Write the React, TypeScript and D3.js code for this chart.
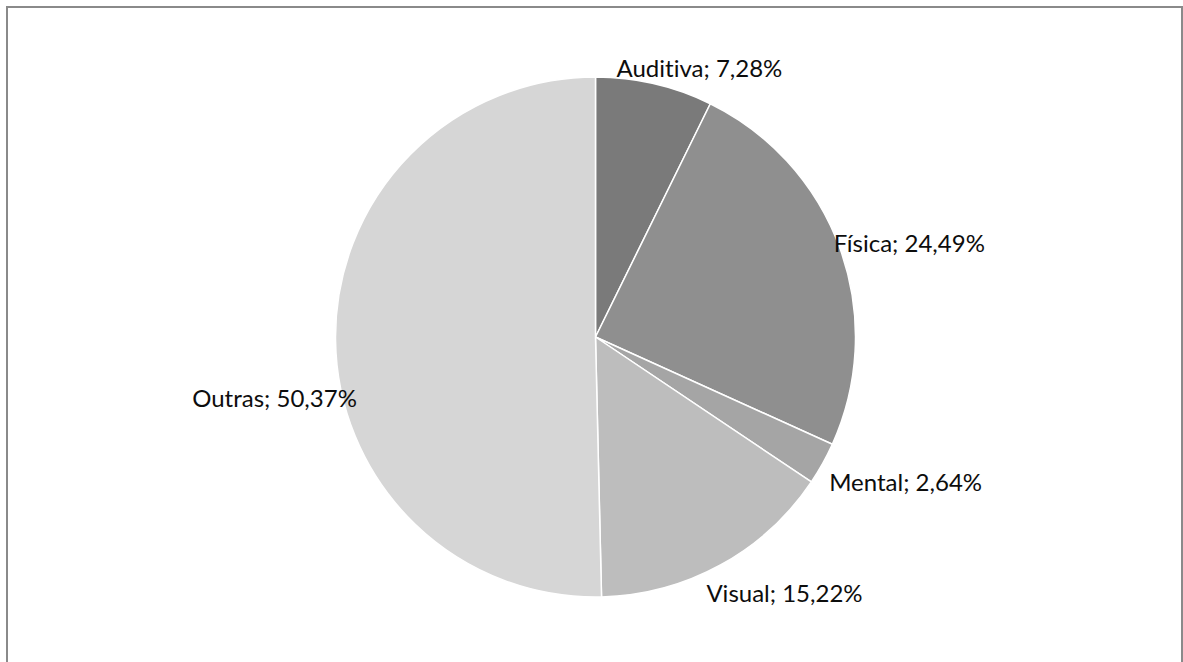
import React from "react";
import * as d3 from "d3";

const categories = ["Auditiva", "Física", "Mental", "Visual", "Outras"];
const values = [7.28, 24.49, 2.64, 15.22, 50.37];
const colors = ["#7a7a7a", "#8f8f8f", "#a5a5a5", "#bdbdbd", "#d6d6d6"];
// layout nudges for labels (relative to the slice's mid-angle point on the rim)
const labelNudge: [number, number][] = [
  [45, -7],
  [69, 3],
  [83, 27],
  [64, 37],
  [-61, 67],
];

const W = 1183;
const H = 662;
const cx = 595.5;
const cy = 337;
const R = 260;

const fmt = (v: number) => v.toFixed(2).replace(".", ",") + "%";

export default function App() {
  const data = categories.map((c, i) => ({ c, v: values[i], i }));
  const pie = d3.pie<any>().value((d) => d.v).sort(null);
  const arcs = pie(data);
  const arc = d3.arc<any>().innerRadius(0).outerRadius(R);

  return (
    <svg
      width={W}
      height={H}
      style={{ position: "absolute", left: 0, top: 0, background: "#fff" }}
    >
      <rect x={0} y={0} width={W} height={H} fill="#fff" />
      <rect
        x={7}
        y={7}
        width={1175}
        height={720}
        fill="#fff"
        stroke="#8a8a8a"
        strokeWidth={2}
      />
      <g transform={`translate(${cx},${cy})`}>
        {arcs.map((a, i) => (
          <path
            key={i}
            d={arc(a) as string}
            fill={colors[i]}
            stroke="#fff"
            strokeWidth={1.5}
            strokeLinejoin="round"
          />
        ))}
        {arcs.map((a, i) => {
          const mid = (a.startAngle + a.endAngle) / 2;
          const x = Math.sin(mid) * R + labelNudge[i][0];
          const y = -Math.cos(mid) * R + labelNudge[i][1];
          return (
            <text
              key={"t" + i}
              x={x}
              y={y}
              textAnchor="middle"
              fontFamily="Lato, 'Open Sans', sans-serif"
              fontSize={24}
              fill="#0d0d0d"
              style={{ fontVariantLigatures: "none", fontFeatureSettings: "'liga' 0" }}
            >
              {categories[i]}; {fmt(values[i])}
            </text>
          );
        })}
      </g>
    </svg>
  );
}
